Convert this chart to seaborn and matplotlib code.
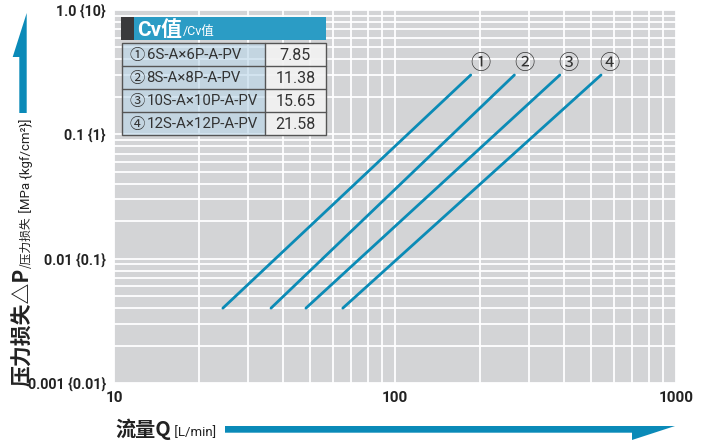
import numpy as np
import pandas as pd
import matplotlib
matplotlib.use("Agg")
import matplotlib.pyplot as plt
import seaborn as sns
from matplotlib.patches import Rectangle, Polygon
from matplotlib.ticker import LogLocator, NullFormatter

# ---------------- data ----------------
marks = ["①", "②", "③", "④"]
models = ["6S-A×6P-A-PV", "8S-A×8P-A-PV", "10S-A×10P-A-PV", "12S-A×12P-A-PV"]
cv_values = ["7.85", "11.38", "15.65", "21.58"]
q_start = [24.4, 36.2, 48.2, 65.2]
q_end = [186, 266, 386, 541]
dp_start = [0.004, 0.004, 0.004, 0.004]
dp_end = [0.3, 0.3, 0.3, 0.3]
label_q = [202, 288, 413, 578]
label_dp = [0.37, 0.37, 0.37, 0.37]
x_ticks = [10, 100, 1000]
x_tick_labels = ["10", "100", "1000"]
y_ticks = [0.001, 0.01, 0.1, 1.0]
y_tick_labels = ["0.001 {0.01}", "0.01 {0.1}", "0.1 {1}", "1.0 {10}"]

# ---------------- style ----------------
LINE = "#0b8bb6"
ARROW = "#0a8ab8"
HEADER = "#2b9cc5"
BG = "#d3d4d6"
NARROW = ["Roboto", "Noto Sans CJK JP", "DejaVu Sans"]
CJK = ["Noto Sans CJK SC", "DejaVu Sans"]

sns.set_theme(style="white")
plt.rcParams["font.family"] = ["Roboto", "Noto Sans CJK SC", "DejaVu Sans"]

W, H = 704, 441
fig = plt.figure(figsize=(W / 100, H / 100), dpi=100)
fig.patch.set_facecolor("white")


def fx(x):
    return x / W


def fy(y):
    return 1 - y / H


ax = fig.add_axes([fx(114), fy(383), 562 / W, 373 / H])

rows = []
for m, q0, q1, p0, p1 in zip(marks, q_start, q_end, dp_start, dp_end):
    rows.append({"series": m, "Q": q0, "dP": p0})
    rows.append({"series": m, "Q": q1, "dP": p1})
df = pd.DataFrame(rows)

ax.set_xscale("log")
ax.set_yscale("log")
sns.lineplot(data=df, x="Q", y="dP", hue="series", palette=[LINE] * 4,
             linewidth=2.0, legend=False, ax=ax, sort=False, estimator=None)
ax.set_xlim(10, 1000)
ax.set_ylim(0.001, 1.0)
ax.set_facecolor(BG)
ax.xaxis.set_minor_locator(LogLocator(base=10, subs=np.arange(2, 10)))
ax.yaxis.set_minor_locator(LogLocator(base=10, subs=np.arange(2, 10)))
ax.xaxis.set_minor_formatter(NullFormatter())
ax.yaxis.set_minor_formatter(NullFormatter())
ax.grid(True, which="both", color="white", linewidth=1.3)
ax.set_axisbelow(True)
ax.tick_params(which="both", length=0)
for s in ax.spines.values():
    s.set_visible(False)
ax.set_xticks(x_ticks, x_tick_labels)
ax.set_yticks(y_ticks, y_tick_labels)
ax.tick_params(axis="x", pad=6)
ax.tick_params(axis="y", pad=6)
for lbl in ax.get_xticklabels():
    lbl.set_fontfamily(NARROW)
    lbl.set_fontweight("bold")
    lbl.set_fontsize(11)
    lbl.set_color("#222222")
for lbl in ax.get_yticklabels():
    lbl.set_fontfamily(NARROW)
    lbl.set_fontweight("bold")
    lbl.set_fontsize(10.3)
    lbl.set_color("#222222")
ax.set_xlabel("")
ax.set_ylabel("")

for m, q, p in zip(marks, label_q, label_dp):
    ax.text(q, p, m, ha="center", va="center", fontsize=14.5,
            family=["Noto Sans CJK JP", "DejaVu Sans"], color="#333333")

# ---------------- table ----------------
def frect(x0, y0, x1, y1, **kw):
    r = Rectangle((fx(x0), fy(y1)), (x1 - x0) / W, (y1 - y0) / H,
                  transform=fig.transFigure, **kw)
    fig.add_artist(r)
    return r

frect(121, 17.3, 326, 40, facecolor=HEADER, edgecolor="none", zorder=3)
frect(121, 17.3, 134, 40, facecolor="#3a3a3c", edgecolor="none", zorder=4)
t1 = fig.text(fx(137), fy(35.5), "Cv值", color="white", fontsize=15,
              fontweight="bold", family=["Roboto", "Noto Sans CJK SC"],
              va="baseline", ha="left", zorder=5)
fig.canvas.draw()
bb = t1.get_window_extent()
fig.text(bb.x1 / W + 1 / W, fy(35.5), "/Cv值", color="white", fontsize=9,
         family=["Roboto", "Noto Sans CJK SC"], va="baseline",
         ha="left", zorder=5)

row_y = [43.3, 66.3, 89.3, 112.3, 135.3]
col_x = [121.7, 265, 326]
frect(col_x[0], row_y[0], col_x[1], row_y[-1], facecolor=(0.73, 0.84, 0.91),
      alpha=0.62, edgecolor="none", zorder=3)
frect(col_x[1], row_y[0], col_x[2], row_y[-1], facecolor=(0.95, 0.95, 0.95),
      alpha=0.92, edgecolor="none", zorder=3)
frect(col_x[0], row_y[0], col_x[2], row_y[-1], facecolor="none",
      edgecolor="#555555", linewidth=1.0, zorder=4)
for y in row_y[1:-1]:
    fig.add_artist(plt.Line2D([fx(col_x[0]), fx(col_x[2])], [fy(y), fy(y)],
                              transform=fig.transFigure, color="#555555",
                              linewidth=1.0, zorder=4))
fig.add_artist(plt.Line2D([fx(col_x[1]), fx(col_x[1])], [fy(row_y[0]), fy(row_y[-1])],
                          transform=fig.transFigure, color="#555555",
                          linewidth=1.0, zorder=4))
for i, (m, mod, cv) in enumerate(zip(marks, models, cv_values)):
    yc = (row_y[i] + row_y[i + 1]) / 2 + 0.5
    fig.text(fx(129.5), fy(yc), m, fontsize=11,
             family=["Noto Sans CJK JP", "DejaVu Sans"],
             color="#333333", ha="left", va="center", zorder=5)
    fig.text(fx(146.5), fy(yc), mod, fontsize=10.8, family=NARROW,
             color="#333333", ha="left", va="center", zorder=5)
    fig.text(fx((col_x[1] + col_x[2]) / 2), fy(yc), cv, fontsize=11.5,
             family=NARROW, color="#333333", ha="center", va="center", zorder=5)

# ---------------- axis titles ----------------
y_pieces = [("压力损失△P", 15, "bold", CJK),
            ("/压力损失", 8.5, "normal", CJK),
            (" [MPa {kgf/cm²}]", 9.5, "normal", NARROW)]
ycur = 386
for txt, sz, wt, fam in y_pieces:
    t = fig.text(fx(33), fy(ycur), txt, rotation=90, ha="right", va="bottom",
                 fontsize=sz, fontweight=wt, family=fam, color="#222222")
    fig.canvas.draw()
    b = t.get_window_extent()
    ycur = H - b.y1

x_pieces = [("流量Q", 14.5, "bold", CJK),
            (" [L/min]", 9.5, "normal", NARROW)]
xcur = 115
for txt, sz, wt, fam in x_pieces:
    t = fig.text(fx(xcur), fy(436), txt, ha="left", va="baseline",
                 fontsize=sz, fontweight=wt, family=fam, color="#222222")
    fig.canvas.draw()
    b = t.get_window_extent()
    xcur = b.x1

# arrows
yarrow = [(19.3, 113), (26.7, 113), (26.7, 13), (12.7, 57), (19.3, 57)]
xarrow = [(225, 426), (675, 426), (632, 440), (632, 432.7), (225, 432.7)]
for pts in (yarrow, xarrow):
    fig.add_artist(Polygon([(fx(a), fy(b)) for a, b in pts], closed=True,
                           transform=fig.transFigure, facecolor=ARROW,
                           edgecolor="none"))

fig.savefig("out.png", dpi=100)
